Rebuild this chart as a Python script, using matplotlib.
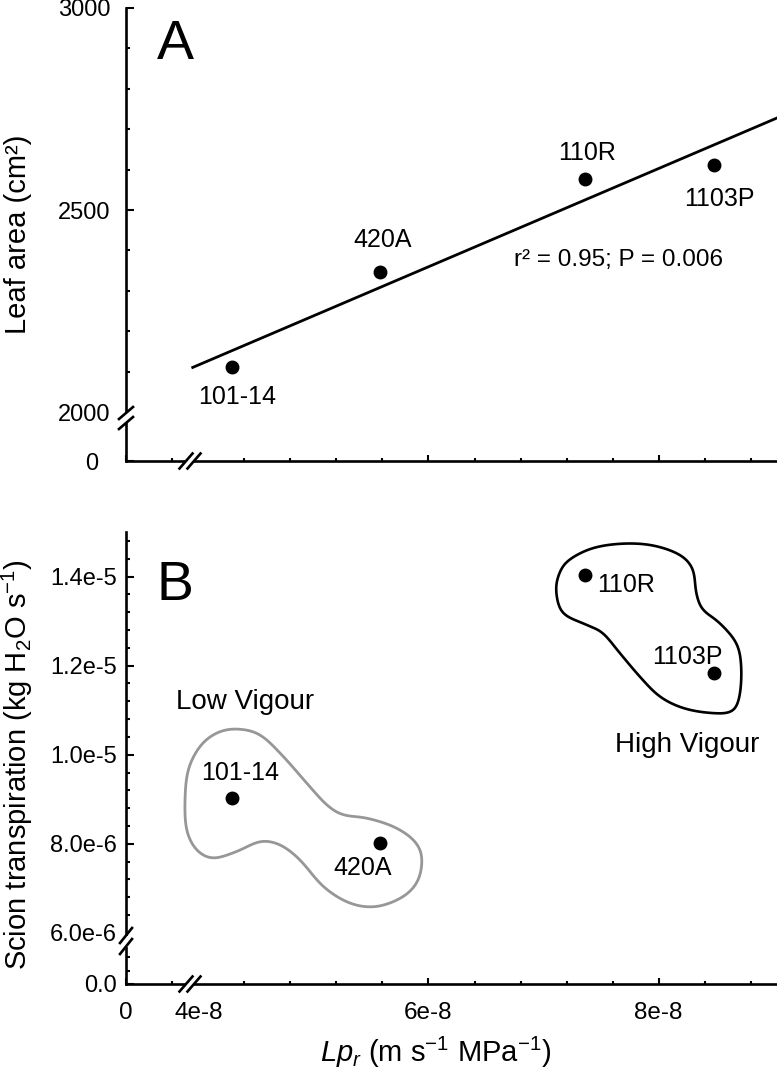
import numpy as np
import matplotlib
matplotlib.use('Agg')
import matplotlib.pyplot as plt
from matplotlib.lines import Line2D
from matplotlib.patches import Polygon
from matplotlib.ticker import FixedLocator, FixedFormatter, NullFormatter

plt.rcParams['font.family'] = ['Liberation Sans', 'DejaVu Sans']
plt.rcParams['mathtext.fontset'] = 'custom'
plt.rcParams['mathtext.rm'] = 'Liberation Sans'
plt.rcParams['mathtext.it'] = 'Liberation Sans:italic'

# ---- data ----
rootstocks = ['101-14', '420A', '110R', '1103P']
lpr = [4.29e-8, 5.58e-8, 7.36e-8, 8.485e-8]          # m s-1 MPa-1
leaf_area = [2112, 2346, 2577, 2612]                 # cm2
transpiration = [9.04e-6, 8.01e-6, 1.404e-5, 1.183e-5]  # kg H2O s-1
fit_range = [3.95e-8, 9.03e-8]

# outline of the "High Vigour" group (x in 1e-8, y in 1e-6)
high_x = [7.110, 7.168, 7.371, 7.516, 7.661, 7.835, 8.009, 8.211, 8.443, 8.632, 8.704, 8.719,
          8.676, 8.530, 8.385, 8.328, 8.298, 8.183, 7.950, 7.690, 7.429, 7.226, 7.139]
high_y = [13.67, 13.18, 12.92, 12.73, 12.29, 11.76, 11.31, 11.05, 10.94, 10.97, 11.31, 11.98,
          12.51, 12.96, 13.26, 13.63, 14.16, 14.49, 14.70, 14.74, 14.64, 14.38, 14.08]
# outline of the "Low Vigour" group
low_x = [3.883, 3.911, 4.013, 4.158, 4.332, 4.535, 4.737, 4.941, 5.115, 5.259, 5.463, 5.694, 5.868,
         5.941, 5.911, 5.781, 5.550, 5.317, 5.085, 4.883, 4.709, 4.535, 4.332, 4.129, 3.984, 3.897]
low_y = [8.989, 9.663, 10.187, 10.488, 10.578, 10.449, 9.962, 9.364, 8.876, 8.652, 8.578, 8.389, 8.090,
         7.715, 7.191, 6.816, 6.591, 6.667, 7.040, 7.640, 7.978, 8.052, 7.827, 7.679, 7.865, 8.315]

x_major = [0, 4e-8, 6e-8, 8e-8]
x_labels = ['0', '4e-8', '6e-8', '8e-8']
x_minor = [0.4e-8, 4.4e-8, 4.8e-8, 5.2e-8, 5.6e-8, 6.4e-8, 6.8e-8, 7.2e-8, 7.6e-8, 8.4e-8, 8.8e-8]
la_major = [0, 2000, 2500, 3000]
la_labels = ['0', '2000', '2500', '3000']
la_minor = [2100, 2200, 2300, 2400, 2600, 2700, 2800, 2900]
tr_major = [0, 6e-6, 8e-6, 1e-5, 1.2e-5, 1.4e-5]
tr_labels = ['0.0', '6.0e-6', '8.0e-6', '1.0e-5', '1.2e-5', '1.4e-5']
tr_minor = [0.3e-6, 0.6e-6] + [v * 1e-6 for v in (6.4, 6.8, 7.2, 7.6, 8.4, 8.8, 9.2, 9.6, 10.4, 10.8,
                                                  11.2, 11.6, 12.4, 12.8, 13.2, 13.6, 14.4, 14.8)]


def brk_scale(a, b):
    # cut the interval (a, b) out of the axis
    def fwd(v):
        v = np.asarray(v, float)
        return np.where(v <= a, v, np.where(v >= b, v - (b - a), a))

    def inv(s):
        s = np.asarray(s, float)
        return np.where(s <= a, s, s + (b - a))
    return fwd, inv


def closed_curve(xs, ys, n=24, k=15):
    # closed Catmull-Rom spline, then a light circular moving average
    P = np.column_stack([xs, ys])
    N = len(P)
    t = np.linspace(0, 1, n, endpoint=False)[:, None]
    out = []
    for i in range(N):
        p0, p1, p2, p3 = P[i - 1], P[i], P[(i + 1) % N], P[(i + 2) % N]
        out.append(0.5 * (2 * p1 + (-p0 + p2) * t + (2 * p0 - 5 * p1 + 4 * p2 - p3) * t ** 2
                          + (-p0 + 3 * p1 - 3 * p2 + p3) * t ** 3))
    out = np.vstack(out)
    kern = np.ones(k) / k
    sm = []
    for c in range(2):
        v = np.concatenate([out[-k:, c], out[:, c], out[:k, c]])
        sm.append(np.convolve(v, kern, mode='same')[k:-k])
    return np.column_stack(sm)


W, H = 777, 1075
fig = plt.figure(figsize=(W / 100, H / 100), dpi=100)
ax1 = fig.add_axes([126 / W, 1 - 461 / H, 651 / W, 453 / H])
ax2 = fig.add_axes([126 / W, 1 - 984 / H, 651 / W, 452 / H])

for ax in (ax1, ax2):
    ax.set_xscale('function', functions=brk_scale(0.45e-8, 3.82e-8))
    ax.set_xlim(0, 9.03e-8)
    for s in ('top', 'right'):
        ax.spines[s].set_visible(False)
    for s in ('left', 'bottom'):
        ax.spines[s].set_linewidth(1.9)
    ax.xaxis.set_major_locator(FixedLocator(x_major))
    ax.xaxis.set_minor_locator(FixedLocator(x_minor))
    ax.xaxis.set_minor_formatter(NullFormatter())
    ax.yaxis.set_minor_formatter(NullFormatter())
    ax.tick_params(axis='x', which='major', direction='in', length=4, width=1.5)
    ax.tick_params(axis='x', which='minor', direction='in', length=2.5, width=1.5)
    ax.tick_params(axis='y', which='major', direction='in', length=5.5, width=1.5, labelsize=17)
    ax.tick_params(axis='y', which='minor', direction='in', length=3, width=1.5)

# ---- panel A ----
ax1.set_yscale('function', functions=brk_scale(100, 1979))
ax1.set_ylim(0, 3000)
ax1.yaxis.set_major_locator(FixedLocator(la_major))
ax1.yaxis.set_major_formatter(FixedFormatter(la_labels))
ax1.yaxis.set_minor_locator(FixedLocator(la_minor))
ax1.tick_params(axis='y', which='major', pad=11)
ax1.tick_params(axis='x', labelbottom=False)

slope, icpt = np.polyfit(lpr, leaf_area, 1)
fx = np.array(fit_range)
ax1.plot(fx, slope * fx + icpt, color='black', lw=2.0, clip_on=False)
ax1.plot(lpr, leaf_area, 'o', color='black', ms=9, clip_on=False)

ax1.text(4.335e-8, 2037, '101-14', fontsize=18, ha='center', va='center')
ax1.text(5.604e-8, 2426, '420A', fontsize=18, ha='center', va='center')
ax1.text(7.378e-8, 2641, '110R', fontsize=18, ha='center', va='center')
ax1.text(8.526e-8, 2527, '1103P', fontsize=18, ha='center', va='center')
ax1.text(7.648e-8, 2376, 'r² = 0.95; P = 0.006', fontsize=17.5, ha='center', va='center')
ax1.text(0.0753, 0.918, 'A', fontsize=40, ha='center', va='center', transform=ax1.transAxes)

# ---- panel B ----
ax2.set_yscale('function', functions=brk_scale(0.876e-6, 5.73e-6))
ax2.set_ylim(0, 1.5e-5)
ax2.yaxis.set_major_locator(FixedLocator(tr_major))
ax2.yaxis.set_major_formatter(FixedFormatter(tr_labels))
ax2.yaxis.set_minor_locator(FixedLocator(tr_minor))
ax2.tick_params(axis='y', which='major', pad=6.5)
ax2.xaxis.set_major_formatter(FixedFormatter(x_labels))
ax2.tick_params(axis='x', which='major', labelsize=17.5, pad=13)

hi = closed_curve(np.array(high_x) * 1e-8, np.array(high_y) * 1e-6)
ax2.add_patch(Polygon(hi, closed=True, fill=False, edgecolor='black', lw=1.9,
                      joinstyle='round', clip_on=False))
lo = closed_curve(np.array(low_x) * 1e-8, np.array(low_y) * 1e-6)
ax2.add_patch(Polygon(lo, closed=True, fill=False, edgecolor='#979797', lw=2.0,
                      joinstyle='round', clip_on=False))
ax2.plot(lpr, transpiration, 'o', color='black', ms=9, clip_on=False)

ax2.text(4.361e-8, 9.596e-6, '101-14', fontsize=18, ha='center', va='center')
ax2.text(5.430e-8, 7.461e-6, '420A', fontsize=18, ha='center', va='center')
ax2.text(7.465e-8, 13.82e-6, '110R', fontsize=18, ha='left', va='center')
ax2.text(8.248e-8, 12.20e-6, '1103P', fontsize=18, ha='center', va='center')
ax2.text(4.405e-8, 11.19e-6, 'Low Vigour', fontsize=20, ha='center', va='center')
ax2.text(8.248e-8, 10.225e-6, 'High Vigour', fontsize=20, ha='center', va='center')
ax2.text(0.0753, 0.8805, 'B', fontsize=40, ha='center', va='center', transform=ax2.transAxes)

fig.canvas.draw()
# no tick marks where the axis breaks sit
ax1.yaxis.get_major_ticks()[1].tick1line.set_visible(False)
ax2.yaxis.get_major_ticks()[1].tick1line.set_visible(False)
ax2.xaxis.get_major_ticks()[1].tick1line.set_visible(False)
ax1.xaxis.get_major_ticks()[1].tick1line.set_visible(False)
# the lone "0" of panel A sits further left
ax1.yaxis.get_major_ticks()[0].label1.set_x(-0.019)


def axis_break(cx, cy, sx, sy, dx, dy):
    fig.add_artist(Line2D([(cx - sx / 2) / W, (cx + sx / 2) / W],
                          [1 - (cy - sy / 2) / H, 1 - (cy + sy / 2) / H],
                          color='white', lw=4, solid_capstyle='butt',
                          transform=fig.transFigure, zorder=5))
    for s in (-0.5, 0.5):
        x0, y0 = cx + s * sx, cy + s * sy
        fig.add_artist(Line2D([(x0 - dx) / W, (x0 + dx) / W],
                              [1 - (y0 + dy) / H, 1 - (y0 - dy) / H],
                              color='black', lw=1.9, transform=fig.transFigure, zorder=6))


axis_break(126, 418, 0, 10, 7, 6)
axis_break(190, 461, 8, 0, 6.5, 7.5)
axis_break(126, 941, 0, 11, 6, 7.5)
axis_break(190, 984, 8, 0, 6.5, 7.5)

fig.text(18 / W, 1 - 234 / H, 'Leaf area (cm²)', fontsize=21, rotation=90, ha='center', va='center')
fig.text(17 / W, 1 - 765 / H, 'Scion transpiration (kg H$_2$O s$^{-1}$)', fontsize=21,
         rotation=90, ha='center', va='center')
fig.text(436 / W, 1 - 1052 / H, '$Lp_r$ (m s$^{-1}$ MPa$^{-1}$)', fontsize=21, ha='center', va='center')

fig.savefig('out.png', dpi=100)
